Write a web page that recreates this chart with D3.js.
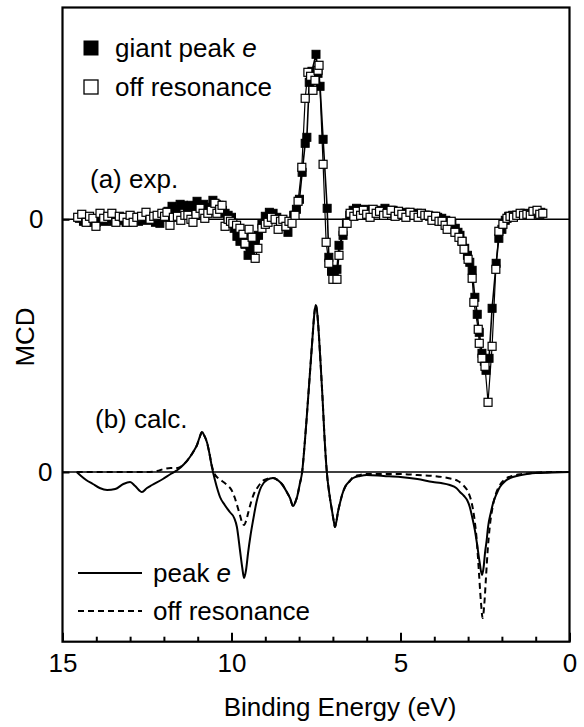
<!DOCTYPE html>
<html>
<head>
<meta charset="utf-8">
<script src="https://cdn.jsdelivr.net/npm/d3@7"></script>
<style>
  body { margin: 0; background: #fff; }
  text { font-family: "Liberation Sans", Arial, sans-serif; fill: #000; }
</style>
</head>
<body>
<div id="chart"></div>
<script>
// (a) exp. - giant peak e (filled squares)
var giantE = [14.5,14.38,14.25,14.12,14.0,13.88,13.75,13.62,13.5,13.38,13.25,13.12,13.0,12.88,12.75,12.62,12.5,12.38,12.25,12.12,
  12.0,11.88,11.76,11.64,11.52,11.42,11.3,11.2,11.1,11.02,10.92,10.82,10.72,10.62,10.55,10.45,10.37,10.27,10.19,10.1,
  10.0,9.92,9.84,9.75,9.66,9.6,9.51,9.45,9.38,9.3,9.2,9.1,9.0,8.88,8.77,8.66,8.55,8.44,8.33,8.24,
  8.16,8.08,7.99,7.91,7.82,7.77,7.7,7.62,7.5,7.44,7.38,7.29,7.17,7.12,7.04,6.96,6.88,6.82,6.7,6.6,
  6.5,6.4,6.3,6.18,6.06,5.94,5.82,5.7,5.58,5.46,5.34,5.22,5.1,4.98,4.86,4.74,4.62,4.5,4.38,4.26,
  4.14,4.02,3.9,3.78,3.66,3.56,3.48,3.38,3.3,3.24,3.18,3.1,3.02,2.95,2.88,2.8,2.73,2.67,2.59,2.52,
  2.47,2.38,2.29,2.17,2.09,2.0,1.9,1.8,1.68,1.56,1.44,1.32,1.2,1.08,0.96,0.85];
var giantMCD = [0.1,-0.2,0.0,-0.3,-0.3,0.0,-0.2,0.1,-0.2,0.1,-0.1,-0.3,0.0,0.2,-0.2,0.1,-0.1,0.1,-0.3,-0.4,
  0.2,0.8,1.3,1.0,1.5,1.4,1.1,1.4,1.0,1.8,1.3,1.5,1.2,1.1,1.9,1.5,1.4,0.9,0.6,0.4,
  0.2,-0.9,-1.7,-2.2,-2.1,-2.5,-3.6,-3.2,-2.6,-2.3,-1.6,-0.5,0.3,0.7,0.6,0.2,-0.1,-0.5,-1.3,-0.3,
  0.4,1.0,2.0,4.7,7.6,8.2,13.7,14.8,16.5,14.6,13.3,8.0,1.1,-3.8,-5.2,-5.4,-5.0,-2.6,-1.6,-0.4,
  0.4,0.9,1.1,0.9,1.0,0.7,0.9,0.8,0.9,1.1,0.7,0.9,0.6,0.6,0.7,0.5,0.6,0.6,0.5,0.4,
  0.3,0.3,0.2,0.1,-0.1,-0.3,-0.4,-0.9,-1.3,-1.6,-2.2,-2.9,-3.6,-4.3,-5.1,-7.8,-9.5,-11.3,-13.4,-14.2,
  -15.1,-13.9,-8.9,-4.4,-1.9,-1.0,-0.1,0.3,0.4,0.4,0.5,0.6,0.5,0.7,0.6,0.7];

// (a) exp. - off resonance (open squares)
var offE = [14.55,14.43,14.3,14.2,14.1,14.01,13.89,13.78,13.66,13.54,13.42,13.32,13.2,13.09,13.0,12.91,12.8,12.66,12.53,12.41,
  12.3,12.2,12.06,11.98,11.91,11.82,11.72,11.6,11.5,11.38,11.29,11.2,11.14,11.05,10.93,10.84,10.79,10.7,10.6,10.49,
  10.43,10.35,10.28,10.19,10.1,10.03,9.96,9.85,9.75,9.66,9.6,9.48,9.39,9.3,9.22,9.1,9.0,8.92,8.82,8.71,
  8.62,8.55,8.48,8.39,8.3,8.21,8.12,8.03,7.92,7.82,7.74,7.66,7.59,7.53,7.44,7.41,7.29,7.2,7.12,7.0,
  6.88,6.82,6.7,6.58,6.49,6.38,6.28,6.18,6.1,6.0,5.9,5.81,5.72,5.62,5.5,5.4,5.28,5.16,5.06,4.96,
  4.84,4.72,4.6,4.48,4.38,4.28,4.18,4.07,3.96,3.86,3.77,3.68,3.62,3.5,3.39,3.27,3.18,3.12,3.0,2.88,
  2.83,2.7,2.67,2.59,2.5,2.41,2.29,2.18,2.09,1.97,1.85,1.76,1.66,1.56,1.46,1.36,1.26,1.16,1.08,0.96,0.88,0.79];
var offMCD = [0.2,0.5,-0.3,0.3,0.1,-0.7,0.6,0.1,0.3,0.6,-0.3,0.3,0.2,-0.3,0.4,-0.3,0.2,0.3,0.7,0.0,
  0.3,0.4,0.6,0.3,0.7,-0.6,0.2,0.3,-0.1,0.4,0.4,0.0,-0.3,0.5,1.1,0.6,0.1,0.6,0.9,1.6,
  0.6,1.0,1.4,-0.7,0.0,-0.2,-0.4,-0.6,-0.9,-1.5,-2.4,-1.0,-1.8,-3.9,-2.9,-0.9,-0.5,-0.3,0.2,0.0,
  -1.0,-0.2,0.0,-0.7,-0.2,-0.4,0.4,1.8,5.2,12.1,14.7,14.3,12.9,13.9,14.9,15.4,5.5,-2.3,-4.4,-6.0,
  -6.0,-3.6,-1.2,-0.4,0.6,0.3,0.8,0.4,0.9,0.5,0.2,1.0,0.6,0.8,0.4,0.6,0.9,0.3,0.8,0.5,
  0.2,0.7,0.4,0.2,0.6,0.4,0.4,-0.1,0.3,-0.2,-0.2,-0.6,-1.0,-0.2,-1.3,-1.8,-2.2,-3.0,-4.0,-5.9,
  -8.3,-11.0,-12.4,-13.9,-14.7,-18.3,-12.7,-5.0,-1.2,-0.5,0.1,0.3,0.2,0.4,0.6,0.4,0.5,0.4,0.8,0.9,0.5,0.6];

// (b) calc. - peak e (solid)
var calcE = [14.58,14.45,14.3,14.1,13.9,13.68,13.44,13.2,13.0,12.85,12.65,12.5,12.35,12.03,11.8,11.6,11.4,11.23,11.1,11.02,
  10.95,10.87,10.8,10.72,10.65,10.58,10.49,10.4,10.34,10.2,10.05,9.92,9.84,9.75,9.68,9.63,9.57,9.51,9.44,9.36,
  9.26,9.16,9.05,8.95,8.77,8.6,8.51,8.38,8.27,8.18,8.1,8.06,7.98,7.91,7.84,7.78,7.72,7.66,7.6,7.55,
  7.51,7.47,7.42,7.37,7.31,7.25,7.18,7.1,7.03,6.97,6.94,6.9,6.85,6.79,6.72,6.64,6.5,6.4,6.2,6.0,
  5.5,5.0,4.5,4.04,3.8,3.54,3.35,3.24,3.12,3.03,2.95,2.88,2.8,2.74,2.66,2.59,2.54,2.5,2.45,2.41,
  2.33,2.26,2.16,2.06,1.9,1.76,1.5,1.26,1.0,0.5,0.0];
var calcPeak = [0,-0.4,-0.8,-1.2,-1.6,-1.8,-1.7,-1.2,-1.0,-1.4,-2.0,-1.6,-1.3,-0.7,-0.2,0.2,0.8,1.5,2.2,2.7,
  3.4,4.0,3.6,2.9,1.8,0.5,-0.8,-1.9,-2.5,-3.3,-4.0,-4.6,-5.5,-7.8,-9.6,-10.6,-9.8,-8.1,-6.4,-4.8,
  -3.0,-1.8,-1.1,-0.8,-0.6,-0.9,-1.2,-1.9,-2.6,-3.4,-2.9,-2.5,-1.2,0,2.6,5.2,8.0,10.8,13.6,15.8,
  16.7,16.1,14.0,11.2,7.6,3.6,0,-2.3,-3.8,-5.0,-5.5,-5.0,-4.0,-3.1,-2.2,-1.5,-0.9,-0.6,-0.4,-0.3,
  -0.4,-0.5,-0.7,-1.0,-1.1,-1.3,-1.6,-2.0,-2.4,-2.8,-3.5,-4.5,-5.8,-7.1,-9.0,-10.3,-9.5,-8.1,-6.8,-5.5,
  -4.1,-3.1,-2.2,-1.5,-0.9,-0.6,-0.35,-0.2,-0.1,-0.05,0];

// (b) calc. - off resonance (dashed)
var calcOffE = [14.58,14.0,13.5,13.0,12.5,12.2,12.0,11.8,11.6,11.4,11.23,11.1,11.02,10.95,10.87,10.8,10.72,10.65,10.58,10.5,
  10.4,10.28,10.13,10.0,9.9,9.82,9.75,9.68,9.63,9.56,9.5,9.42,9.34,9.22,9.08,8.95,8.77,8.6,8.51,8.38,
  8.27,8.18,8.1,8.06,7.98,7.91,7.84,7.78,7.72,7.66,7.6,7.55,7.51,7.47,7.42,7.37,7.31,7.25,7.18,7.1,
  7.03,6.97,6.94,6.9,6.85,6.79,6.72,6.64,6.5,6.4,6.2,6.0,5.5,5.0,4.5,4.0,3.6,3.3,3.15,3.0,
  2.9,2.82,2.74,2.68,2.62,2.57,2.52,2.47,2.42,2.36,2.28,2.18,2.06,1.9,1.7,1.4,1.1,0.5,0.0];
var calcOff = [0,0,0,0,0,0.1,0.3,0.4,0.4,0.8,1.5,2.2,2.7,3.4,4.0,3.6,2.9,1.8,0.6,-0.2,
  -0.6,-0.9,-1.3,-1.8,-2.6,-3.5,-4.3,-5.1,-5.3,-4.8,-4.0,-3.0,-2.2,-1.5,-0.9,-0.7,-0.6,-0.9,-1.2,-1.9,
  -2.6,-3.4,-2.9,-2.5,-1.2,0,2.6,5.2,8.0,10.8,13.6,15.8,16.7,16.1,14.0,11.2,7.6,3.6,0,-2.3,
  -3.8,-5.0,-5.5,-5.0,-4.0,-3.1,-2.2,-1.5,-0.9,-0.5,-0.3,-0.2,-0.2,-0.2,-0.3,-0.4,-0.6,-0.9,-1.3,-2.0,
  -3.0,-4.5,-7.0,-10.0,-13.0,-14.6,-13.2,-10.5,-7.8,-5.5,-3.6,-2.2,-1.3,-0.7,-0.4,-0.2,-0.1,0,0];

var xTicks = [15, 10, 5, 0];
var xMinor = [14,13,12,11,9,8,7,6,4,3,2,1];

var W = 584, H = 727;
var pLeft = 62.5, pRight = 569.5, pTop = 7.5, pBottom = 641.7;

var svg = d3.select("#chart").append("svg").attr("width", W).attr("height", H);

var x = d3.scaleLinear().domain([15, 0]).range([pLeft, pRight]);
// same MCD unit for both panels, each with its own zero
var yA = d3.scaleLinear().domain([-20, 20]).range([419.3, 19.3]);
var yB = d3.scaleLinear().domain([-20, 20]).range([672, 272]);

function pts(es, vs) {
    var out = [];
    for (var i = 0; i < es.length; i++) out.push([es[i], vs[i]]);
    return out;
}

// zero lines
[yA, yB].forEach(function(y) {
    svg.append("line").attr("x1", pLeft).attr("x2", pRight)
        .attr("y1", y(0)).attr("y2", y(0))
        .attr("stroke", "#000").attr("stroke-width", 1.6);
});

// exp lines
var lineA = d3.line().x(function(d) { return x(d[0]); }).y(function(d) { return yA(d[1]); });
var giant = pts(giantE, giantMCD), off = pts(offE, offMCD);
svg.append("path").attr("d", lineA(giant)).attr("fill", "none").attr("stroke", "#000").attr("stroke-width", 1.6);
svg.append("path").attr("d", lineA(off)).attr("fill", "none").attr("stroke", "#000").attr("stroke-width", 1.2);

var sq = 8;
svg.selectAll(".giant").data(giant).enter().append("rect")
    .attr("x", function(d) { return x(d[0]) - sq/2; })
    .attr("y", function(d) { return yA(d[1]) - sq/2; })
    .attr("width", sq).attr("height", sq)
    .attr("fill", "#000").attr("stroke", "#000").attr("stroke-width", 1);
svg.selectAll(".off").data(off).enter().append("rect")
    .attr("x", function(d) { return x(d[0]) - sq/2; })
    .attr("y", function(d) { return yA(d[1]) - sq/2; })
    .attr("width", sq).attr("height", sq)
    .attr("fill", "#fff").attr("stroke", "#000").attr("stroke-width", 1.2);

// calc lines
var lineB = d3.line().x(function(d) { return x(d[0]); }).y(function(d) { return yB(d[1]); })
    .curve(d3.curveMonotoneX);
svg.append("path").attr("d", lineB(pts(calcOffE, calcOff))).attr("fill", "none")
    .attr("stroke", "#000").attr("stroke-width", 2).attr("stroke-dasharray", "6,4");
svg.append("path").attr("d", lineB(pts(calcE, calcPeak))).attr("fill", "none")
    .attr("stroke", "#000").attr("stroke-width", 2);

// axes
var fs = 26;
svg.append("g").attr("transform", "translate(0," + pBottom + ")")
    .call(d3.axisBottom(x).tickValues(xTicks).tickSize(-9).tickPadding(12).tickFormat(d3.format("d")));
svg.append("g").attr("transform", "translate(0," + pBottom + ")")
    .call(d3.axisBottom(x).tickValues(xMinor).tickSize(-5).tickFormat(""));
svg.append("g").attr("transform", "translate(" + pLeft + ",0)")
    .call(d3.axisLeft(yA).tickValues([0]).tickSize(-7).tickPadding(19));
svg.append("g").attr("transform", "translate(" + pLeft + ",0)")
    .call(d3.axisLeft(yB).tickValues([0]).tickSize(-7).tickPadding(10));
svg.selectAll(".domain").remove();
svg.selectAll(".tick line").attr("stroke", "#000").attr("stroke-width", 2);
svg.selectAll(".tick text").style("font-size", fs + "px").style("font-family", "Liberation Sans, Arial, sans-serif");

// frame
svg.append("rect").attr("x", pLeft).attr("y", pTop).attr("width", pRight - pLeft).attr("height", pBottom - pTop)
    .attr("fill", "none").attr("stroke", "#000").attr("stroke-width", 2.2);

// axis titles
svg.append("text").attr("x", 340).attr("y", 716).attr("text-anchor", "middle")
    .style("font-size", fs + "px").text("Binding Energy (eV)");
svg.append("text").attr("transform", "translate(34,337) rotate(-90)").attr("text-anchor", "middle")
    .style("font-size", fs + "px").text("MCD");

// panel labels
svg.append("text").attr("x", 90).attr("y", 188).style("font-size", fs + "px").text("(a) exp.");
svg.append("text").attr("x", 95).attr("y", 428).style("font-size", fs + "px").text("(b) calc.");

// legend (a)
svg.append("rect").attr("x", 84).attr("y", 41).attr("width", 14).attr("height", 14)
    .attr("fill", "#000").attr("stroke", "#000");
svg.append("rect").attr("x", 84).attr("y", 80).attr("width", 14).attr("height", 14)
    .attr("fill", "#fff").attr("stroke", "#000").attr("stroke-width", 1.3);
var t1 = svg.append("text").attr("x", 115).attr("y", 57).style("font-size", fs + "px");
t1.append("tspan").text("giant peak ");
t1.append("tspan").style("font-style", "italic").text("e");
svg.append("text").attr("x", 115).attr("y", 96).style("font-size", fs + "px").text("off resonance");

// legend (b)
svg.append("line").attr("x1", 78).attr("x2", 142).attr("y1", 573).attr("y2", 573)
    .attr("stroke", "#000").attr("stroke-width", 2);
svg.append("line").attr("x1", 78).attr("x2", 142).attr("y1", 611).attr("y2", 611)
    .attr("stroke", "#000").attr("stroke-width", 2).attr("stroke-dasharray", "6,4");
var t2 = svg.append("text").attr("x", 153).attr("y", 582).style("font-size", fs + "px");
t2.append("tspan").text("peak ");
t2.append("tspan").style("font-style", "italic").text("e");
svg.append("text").attr("x", 153).attr("y", 620).style("font-size", fs + "px").text("off resonance");
</script>
</body>
</html>
